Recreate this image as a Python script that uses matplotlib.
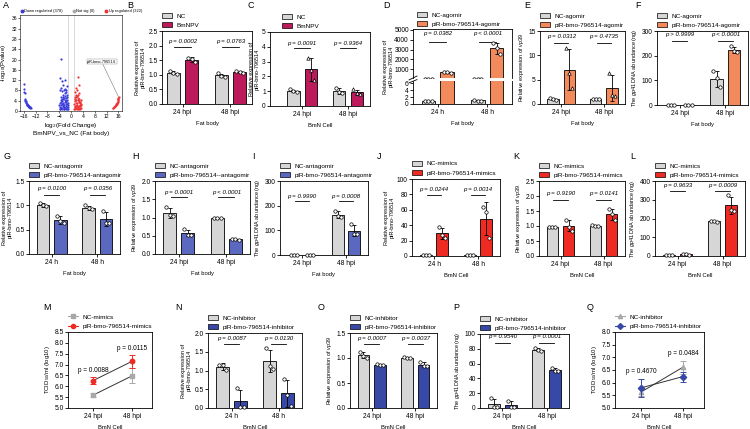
import numpy as np
import matplotlib
matplotlib.use('Agg')
import matplotlib.pyplot as plt
import matplotlib.transforms as mtrans
from matplotlib.patches import Patch
from matplotlib.lines import Line2D

plt.rcParams['font.family'] = ['Liberation Sans', 'DejaVu Sans']
plt.rcParams['mathtext.fontset'] = 'custom'
plt.rcParams['mathtext.rm'] = 'Liberation Sans'
plt.rcParams['mathtext.it'] = 'Liberation Sans:italic'
plt.rcParams['axes.linewidth'] = 0.6
plt.rcParams['xtick.major.width'] = 0.6
plt.rcParams['ytick.major.width'] = 0.6
plt.rcParams['xtick.major.size'] = 2
plt.rcParams['ytick.major.size'] = 2
plt.rcParams['xtick.major.pad'] = 1.5
plt.rcParams['ytick.major.pad'] = 1
plt.rcParams['xtick.labelsize'] = 4.8
plt.rcParams['ytick.labelsize'] = 4.8

FS_LEG = 4.6
FS_P = 4.4
FS_YL = 4.0
FS_XL = 4.2

# ---------------- colours ----------------
NC_GREY = '#d6d6d6'
C_BMNPV = '#bc1a5a'
C_AGOMIR = '#f28a5c'
C_ANTAGOMIR = '#5a68bf'
C_MIMICS = '#ee2a22'
C_INHIBITOR = '#3848a6'
VOL_BLUE = '#3b3bdc'
VOL_RED = '#f03434'

# ---------------- data ----------------
TIME_HPI = ['24 hpi', '48 hpi']
TIME_H = ['24 h', '48 h']

# A: volcano
vol_down_x = [-16.0, -15.9, -15.8, -15.7, -15.6, -15.5, -15.45, -15.4, -15.3, -15.2, -15.1, -15.0, -14.9,
              -14.8, -14.7, -14.6, -14.5, -14.4, -14.3, -14.2, -14.1, -14.0, -13.9, -13.8, -13.6,
              -3.9, -3.7, -3.5, -3.3, -3.1, -2.9, -2.7, -2.5, -2.3, -2.1, -1.9, -1.7, -1.5, -1.3, -1.1,
              -3.8, -3.6, -3.4, -3.2, -3.0, -2.8, -2.6, -2.4, -2.2, -2.0, -1.8, -1.6, -1.4, -1.2, -1.05,
              -3.95, -3.75, -3.45, -3.15, -2.85, -2.55, -2.25, -1.95, -1.65, -1.35, -1.15,
              -2.9, -2.1, -1.7, -1.5, -3.3, -2.6, -1.25,
              -3.5, -3.9, -3.1, -2.0, -2.6, -3.4, -2.2, -1.8, -3.0, -2.5, -1.4, -3.7, -2.0, -1.6]
vol_down_y = [10.5, 8.6, 7.2, 6.8, 4.8, 4.4, 4.0, 3.7, 3.4, 3.1, 2.9, 2.7, 2.5,
              2.3, 2.2, 2.0, 1.9, 1.8, 1.7, 1.6, 1.5, 1.45, 1.4, 1.35, 1.3,
              0.9, 1.5, 2.2, 1.1, 2.8, 1.6, 3.3, 0.8, 2.4, 1.3, 3.9, 1.9, 0.9, 2.6, 1.4,
              3.2, 4.1, 3.6, 4.6, 3.9, 4.8, 2.0, 5.2, 3.6, 4.4, 2.8, 3.4, 4.2, 3.0, 2.2,
              2.4, 0.6, 1.3, 0.7, 2.6, 1.7, 0.6, 1.1, 0.6, 1.7, 0.7,
              5.6, 5.9, 5.0, 6.3, 5.4, 6.2, 5.4,
              20.3, 12.7, 11.6, 12.0, 10.2, 9.0, 8.6, 7.4, 7.6, 8.0, 9.6, 8.3, 7.0, 8.2]
vol_up_x = [1.1, 1.3, 1.5, 1.7, 1.9, 2.1, 2.3, 2.5, 2.7, 2.9, 3.1, 3.3, 3.5,
            1.2, 1.4, 1.6, 1.8, 2.0, 2.2, 2.4, 2.6, 2.8, 3.0, 3.2,
            1.05, 1.35, 1.65, 1.95, 2.25, 2.55, 2.85, 3.15, 3.45, 1.15, 1.55, 2.35,
            1.25, 1.85, 2.45, 3.05, 2.2, 2.5, 1.7, 1.4, 2.1, 2.7,
            14.0, 14.2, 14.4, 14.6, 14.8, 15.0, 15.1, 15.2, 15.3, 15.4, 15.5, 15.6, 15.7,
            15.8, 15.85, 15.9, 15.95, 16.0, 16.05]
vol_up_y = [0.8, 2.1, 1.2, 3.0, 0.7, 2.5, 1.5, 3.6, 0.9, 2.2, 1.3, 2.8, 1.0,
            3.8, 4.6, 5.3, 4.1, 5.8, 4.4, 5.0, 4.0, 4.7, 3.5, 4.2,
            2.9, 0.6, 1.8, 3.3, 0.6, 2.0, 3.1, 0.7, 2.3, 5.6, 6.4, 6.2,
            1.4, 2.0, 1.1, 2.0, 13.3, 10.2, 8.8, 7.5, 8.0, 7.0,
            1.0, 1.2, 1.4, 1.6, 1.8, 2.0, 2.2, 2.4, 2.6, 2.8, 3.0, 3.3, 3.6,
            3.9, 4.2, 4.5, 4.8, 5.1, 5.4]
vol_target = (16.05, 5.4)

# B
B_nc = [[1.12, 1.05, 1.02], [1.05, 0.95, 0.94]]
B_trt = [[1.58, 1.55, 1.43], [1.12, 1.10, 1.07]]
B_p = ['p = 0.0002', 'p = 0.0763']
# C
C_nc = [[1.12, 1.00, 0.96], [1.23, 0.96, 0.85]]
C_trt = [[3.27, 2.40, 1.75], [1.12, 0.85, 0.78]]
C_p = ['p = 0.0091', 'p = 0.9364']
# D
D_nc = [[1.0, 1.0, 1.0], [1.2, 1.0, 0.9]]
D_trt = [[760, 690, 620], [3650, 3150, 2550]]
D_p = ['p = 0.0382', 'p < 0.0001']
# E
E_nc = [[1.2, 1.0, 0.9], [1.0, 1.0, 0.95]]
E_trt = [[11.6, 6.4, 3.2], [6.4, 1.9, 1.7]]
E_p = ['p = 0.0312', 'p = 0.4735']
# F
F_nc = [[0.5, 0.3, 0.4], [138, 108, 71]]
F_trt = [[0.4, 0.5, 0.3], [238, 219, 213]]
F_p = ['p > 0.9999', 'p < 0.0001']
# G
G_nc = [[1.05, 1.00, 0.98], [1.00, 0.94, 0.92]]
G_trt = [[0.78, 0.68, 0.63], [0.88, 0.63, 0.63]]
G_p = ['p = 0.0100', 'p = 0.0356']
# H
H_nc = [[1.28, 1.07, 1.04], [1.0, 1.0, 1.0]]
H_trt = [[0.68, 0.52, 0.52], [0.42, 0.41, 0.39]]
H_p = ['p = 0.0001', 'p < 0.0001']
# I
I_nc = [[0.5, 0.4, 0.5], [179, 157, 155]]
I_trt = [[0.4, 0.5, 0.4], [125, 85, 85]]
I_p = ['p = 0.9990', 'p = 0.0008']
# J
J_nc = [[1.0, 1.0, 1.0], [1.0, 1.0, 1.0]]
J_trt = [[37.7, 27.3, 23.4], [64.0, 57.0, 24.0]]
J_p = ['p = 0.0244', 'p = 0.0014']
# K
K_nc = [[0.98, 0.97, 0.96], [1.02, 1.01, 1.00]]
K_trt = [[1.21, 0.97, 0.85], [1.57, 1.41, 1.19]]
K_p = ['p = 0.9190', 'p = 0.0141']
# L
L_nc = [[8.0, 5.0, 3.0], [186, 185, 184]]
L_trt = [[12.0, 10.0, 8.0], [323, 248, 238]]
L_p = ['p = 0.9633', 'p = 0.0009']
# M (TCID50)
M_nc_mean = [5.59, 6.48]
M_nc_err = [0.10, 0.34]
M_trt_mean = [6.26, 7.15]
M_trt_err = [0.15, 0.30]
M_p = ['p = 0.0088', 'p = 0.0115']
# N
N_nc = [[1.16, 1.15, 1.01], [1.60, 1.12, 1.04]]
N_trt = [[0.53, 0.03, 0.02], [0.77, 0.35, 0.05]]
N_p = ['p = 0.0087', 'p = 0.0130']
# O
O_nc = [[1.13, 1.04, 1.01], [1.02, 1.01, 1.00]]
O_trt = [[0.88, 0.87, 0.86], [0.93, 0.84, 0.84]]
O_p = ['p = 0.0007', 'p = 0.0037']
# P
P_nc = [[13.0, 2.0, 1.0], [81.5, 78.5, 77.0]]
P_trt = [[10.0, 1.0, 1.0], [54.7, 50.0, 50.0]]
P_p = ['p = 0.9540', 'p = 0.0001']
# Q (TCID50)
Q_nc_mean = [5.64, 6.61]
Q_nc_err = [0.15, 0.25]
Q_trt_mean = [5.80, 6.24]
Q_trt_err = [0.35, 0.20]
Q_p = ['p = 0.4670', 'p = 0.0484']

# ---------------- figure ----------------
W, H = 750, 429
fig = plt.figure(figsize=(7.5, 4.29), dpi=100)


def add_ax(l, t, r, b):
    return fig.add_axes([l / W, 1 - b / H, (r - l) / W, (b - t) / H])


BAR_W = 0.27
BAR_OFF = 0.19
JIT = np.array([-0.07, 0.0, 0.07])
YL_PIR = 'Relative expression of\npiR-bmo-796514'
YL_VP39 = r'Relative expression of $\mathit{vp39}$'
YL_GP41 = r'The $\mathit{gp41}$ DNA abundance (ng)'


def draw_bars(ax, nc, trt, color, markers=('o', 'o'), clip=False):
    x = np.arange(2)
    for pts, col, sgn, mk in ((nc, NC_GREY, -1, markers[0]), (trt, color, 1, markers[1])):
        pts = [np.asarray(p, float) for p in pts]
        means = np.array([p.mean() for p in pts])
        sds = np.array([p.std(ddof=1) for p in pts])
        xs = x + sgn * BAR_OFF
        ax.bar(xs, means, BAR_W, color=col, edgecolor='black', linewidth=0.6, zorder=2)
        ax.errorbar(xs, means, yerr=sds, fmt='none', ecolor='black', elinewidth=0.6,
                    capsize=1.5, capthick=0.6, zorder=3)
        for xi, p in zip(xs, pts):
            ax.scatter(xi + JIT, p, s=6, marker=mk, facecolor='white', edgecolor='black',
                       linewidth=0.5, zorder=4, clip_on=clip)


def add_pvals(ax, pvals, ptxt, pline, italic=True):
    tr = mtrans.blended_transform_factory(ax.transData, ax.transAxes)
    for i, p in enumerate(pvals):
        ax.text(i, ptxt, p, transform=tr, ha='center', va='center', fontsize=FS_P,
                style='italic' if italic else 'normal')
        ax.plot([i - 0.17, i + 0.17], [pline, pline], transform=tr, color='black', lw=0.6)


def bar_legend(ax, labels, colors, x=0.0):
    handles = [Patch(facecolor=c, edgecolor='black', linewidth=0.5) for c in colors]
    ax.legend(handles, labels, loc='lower left', bbox_to_anchor=(x, 1.04), frameon=False,
              fontsize=FS_LEG, handlelength=1.6, handleheight=0.8, labelspacing=0.6,
              borderpad=0, borderaxespad=0, handletextpad=0.7)


def bar_panel(box, nc, trt, color, labels, xt, ylim, yticks, pvals, ptxt, pline,
              ylabel, xlabel, markers=('o', 'o'), xlim=(-0.5, 1.5), legx=0.0):
    ax = add_ax(*box)
    draw_bars(ax, nc, trt, color, markers)
    ax.set_xlim(*xlim)
    ax.set_ylim(*ylim)
    ax.set_yticks(yticks)
    ax.set_xticks([0, 1])
    ax.set_xticklabels(xt)
    add_pvals(ax, pvals, ptxt, pline)
    bar_legend(ax, labels, [NC_GREY, color], x=legx)
    ax.set_ylabel(ylabel, fontsize=FS_YL, labelpad=2, linespacing=1.1)
    ax.set_xlabel(xlabel, fontsize=FS_XL, labelpad=4)
    return ax


def line_panel(box, nc_m, nc_e, tr_m, tr_e, nc_col, tr_col, nc_mk, tr_mk, labels, pvals, ylim, yticks):
    ax = add_ax(*box)
    x = np.arange(2)
    ax.plot(x, nc_m, color='#333333', lw=0.7, zorder=2)
    ax.plot(x, tr_m, color='#333333', lw=0.7, zorder=2)
    ax.errorbar(x, nc_m, yerr=nc_e, fmt=nc_mk, color=nc_col, ms=3.2, elinewidth=0.7,
                capsize=2, capthick=0.7, zorder=3)
    ax.errorbar(x, tr_m, yerr=tr_e, fmt=tr_mk, color=tr_col, ms=3.2, elinewidth=0.7,
                capsize=2, capthick=0.7, zorder=4)
    ax.set_xlim(-0.64, 1.51)
    ax.set_ylim(*ylim)
    ax.set_yticks(yticks)
    ax.set_xticks([0, 1])
    ax.set_xticklabels(TIME_HPI)
    ax.yaxis.set_major_formatter(matplotlib.ticker.FormatStrFormatter('%.1f'))
    ax.set_ylabel(r'TCID$_{50}$/ml (log10)', fontsize=FS_YL + 0.3, labelpad=2)
    ax.set_xlabel('BmN Cell', fontsize=FS_XL, labelpad=4)
    handles = [Line2D([0], [0], color=nc_col, marker=nc_mk, ms=3, lw=0.8),
               Line2D([0], [0], color=tr_col, marker=tr_mk, ms=3, lw=0.8)]
    ax.legend(handles, labels, loc='lower left', bbox_to_anchor=(0.0, 1.04), frameon=False,
              fontsize=FS_LEG, handlelength=1.6, labelspacing=0.6, borderpad=0, borderaxespad=0,
              handletextpad=0.7)
    for i, p in enumerate(pvals):
        top = max(nc_m[i] + nc_e[i], tr_m[i] + tr_e[i])
        ax.text(i, top + 0.3, p, ha='center', va='center', fontsize=FS_P + 0.3)
    return ax


# ---------- A: volcano ----------
axA = add_ax(20, 15, 122, 111)
axA.scatter(vol_down_x, vol_down_y, s=2.5, color=VOL_BLUE, linewidths=0, zorder=3)
axA.scatter(vol_up_x, vol_up_y, s=2.5, color=VOL_RED, linewidths=0, zorder=3)
axA.axvline(-1, color='#bbbbbb', lw=0.4, zorder=1)
axA.axvline(1, color='#bbbbbb', lw=0.4, zorder=1)
axA.set_xlim(-17.3, 17.2)
axA.set_ylim(0, 37.3)
axA.set_xticks([-16, -12, -8, -4, 0, 4, 8, 12, 16])
axA.set_yticks(np.arange(0, 37, 4))
axA.tick_params(labelsize=3.6, length=1.2, width=0.4, pad=0.8)
for s in axA.spines.values():
    s.set_linewidth(0.4)
axA.set_xlabel('log$_2$(Fold Change)\nBmNPV_vs_NC (Fat body)', fontsize=4.6, labelpad=1.5, linespacing=1.3)
axA.set_ylabel('-log$_{10}$(Pvalue)', fontsize=4.2)
axA.yaxis.set_label_coords(-0.115, 0.5)
axA.annotate('piR-bmo-796514', xy=vol_target, xytext=(10.3, 19.2), fontsize=2.8, ha='center', va='center',
             bbox=dict(boxstyle='square,pad=0.15', fc='white', ec='#888888', lw=0.3),
             arrowprops=dict(arrowstyle='-', color='#777777', lw=0.4, shrinkA=0, shrinkB=0))
vol_handles = [Line2D([0], [0], ls='none', marker='o', ms=1.8, color=VOL_BLUE),
               Line2D([0], [0], ls='none', marker='o', ms=1.8, color='#aaaaaa'),
               Line2D([0], [0], ls='none', marker='o', ms=1.8, color=VOL_RED)]
axA.legend(vol_handles, ['Down regulated (378)', 'Not sig (0)', 'Up regulated (322)'],
           loc='lower left', bbox_to_anchor=(0.0, 1.02), ncol=3, frameon=False, fontsize=2.9,
           handlelength=0.8, handletextpad=0.2, columnspacing=2.4, borderpad=0, borderaxespad=0)

# ---------- row 1 ----------
bar_panel((162, 31, 252, 104), B_nc, B_trt, C_BMNPV, ['NC', 'BmNPV'], TIME_HPI, (0, 2.5),
          [0, 0.5, 1.0, 1.5, 2.0, 2.5], B_p, 0.86, 0.78, YL_PIR, 'Fat body', xlim=(-0.43, 1.45))
bar_panel((270, 32, 370, 106), C_nc, C_trt, C_BMNPV, ['NC', 'BmNPV'], TIME_HPI, (0, 5),
          [0, 1, 2, 3, 4, 5], C_p, 0.85, 0.78, YL_PIR, 'BmN Cell', markers=('o', '^'),
          xlim=(-0.7, 1.48), legx=0.12)

# D: broken axis
axDu = add_ax(413, 29, 512, 78)
axDl = add_ax(413, 81, 512, 104)
for a in (axDu, axDl):
    draw_bars(a, D_nc, D_trt, C_AGOMIR, clip=True)
    a.set_xlim(-0.5, 1.5)
axDu.set_ylim(100, 5100)
axDu.set_yticks([1000, 2000, 3000, 4000, 5000])
axDl.set_ylim(0, 6.6)
axDl.set_yticks([0, 2, 4, 6])
axDu.spines['bottom'].set_visible(False)
axDl.spines['top'].set_visible(False)
axDu.set_xticks([])
axDl.set_xticks([0, 1])
axDl.set_xticklabels(TIME_H)
axDl.set_xlabel('Fat body', fontsize=FS_XL, labelpad=4)
add_pvals(axDu, D_p, 0.9, 0.73)
bar_legend(axDu, ['NC-agomir', 'piR-bmo-796514-agomir'], [NC_GREY, C_AGOMIR], x=0.04)
axDu.plot([-0.04, 0.04], [-0.04, 0.04], transform=axDu.transAxes, color='black', lw=0.6, clip_on=False)
axDl.plot([-0.04, 0.04], [0.92, 1.06], transform=axDl.transAxes, color='black', lw=0.6, clip_on=False)
fig.text(388 / W, 1 - 66.5 / H, YL_PIR, rotation=90, ha='center', va='center', fontsize=FS_YL,
         linespacing=1.1)

bar_panel((540, 31, 625, 104), E_nc, E_trt, C_AGOMIR, ['NC-agomir', 'piR-bmo-796514-agomir'], TIME_HPI,
          (0, 15), [0, 5, 10, 15], E_p, 0.92, 0.835, YL_VP39, 'Fat body', markers=('o', '^'))
bar_panel((657, 31, 748, 105), F_nc, F_trt, C_AGOMIR, ['NC-agomir', 'piR-bmo-796514-agomir'], TIME_HPI,
          (0, 300), [0, 100, 200, 300], F_p, 0.95, 0.86, YL_GP41, 'Fat body')

# ---------- row 2 ----------
bar_panel((29, 181, 120, 254), G_nc, G_trt, C_ANTAGOMIR, ['NC-antagomir', 'piR-bmo-796514-antagomir'],
          TIME_H, (0, 1.5), [0, 0.5, 1.0, 1.5], G_p, 0.9, 0.81, YL_PIR, 'Fat body')
bar_panel((155, 181, 250, 254), H_nc, H_trt, C_ANTAGOMIR, ['NC-antagomir', 'piR-bmo-796514--antagomir'],
          TIME_HPI, (0, 2.0), [0, 0.5, 1.0, 1.5, 2.0], H_p, 0.845, 0.78, YL_VP39, 'Fat body')
bar_panel((280, 181, 368, 255), I_nc, I_trt, C_ANTAGOMIR, ['NC-antagomir', 'piR-bmo-796514-antagomir'],
          TIME_HPI, (0, 300), [0, 100, 200, 300], I_p, 0.79, 0.73, YL_GP41, 'Fat body')
bar_panel((412, 179, 500, 256), J_nc, J_trt, C_MIMICS, ['NC-mimics', 'piR-bmo-796514-mimics'],
          TIME_H, (0, 100), [0, 20, 40, 60, 80, 100], J_p, 0.86, 0.79, YL_PIR, 'BmN Cell')
bar_panel((539, 181, 625, 256), K_nc, K_trt, C_MIMICS, ['NC-mimics', 'piR-bmo-796514-mimics'],
          TIME_HPI, (0, 2.5), [0, 0.5, 1.0, 1.5, 2.0, 2.5], K_p, 0.83, 0.75, YL_VP39, 'BmN Cell')
bar_panel((655, 181, 745, 256), L_nc, L_trt, C_MIMICS, ['NC-mimics', 'piR-bmo-796514-mimics'],
          TIME_HPI, (0, 400), [0, 100, 200, 300, 400], L_p, 0.94, 0.87, YL_GP41, 'BmN Cell')

# ---------- row 3 ----------
line_panel((68, 332, 152, 408), M_nc_mean, M_nc_err, M_trt_mean, M_trt_err, '#a8a8a8', C_MIMICS,
           's', 'o', ['NC-mimics', 'piR-bmo-796514-mimics'], M_p, (5.0, 8.5),
           [5.0, 5.5, 6.0, 6.5, 7.0, 7.5, 8.0, 8.5])

bar_panel((208, 333, 302, 408), N_nc, N_trt, C_INHIBITOR, ['NC-inhibitor', 'piR-bmo-796514-inhibitor'],
          TIME_H, (0, 2.0), [0, 0.5, 1.0, 1.5, 2.0], N_p, 0.93, 0.85, YL_PIR, 'BmN Cell')
bar_panel((350, 333, 437, 408), O_nc, O_trt, C_INHIBITOR, ['NC-inhibitor', 'piR-bmo-796514-inhibitor'],
          TIME_HPI, (0, 1.5), [0, 0.5, 1.0, 1.5], O_p, 0.93, 0.86, YL_VP39, 'BmN Cell')
bar_panel((480, 334, 569, 408), P_nc, P_trt, C_INHIBITOR, ['NC-inhibitor', 'piR-bmo-796514-inhibitor'],
          TIME_HPI, (0, 100), [0, 20, 40, 60, 80, 100], P_p, 0.96, 0.88, YL_GP41, 'BmN Cell')

line_panel((615, 332, 704, 408), Q_nc_mean, Q_nc_err, Q_trt_mean, Q_trt_err, '#a8a8a8', C_INHIBITOR,
           '^', 'D', ['NC-inhibitor', 'piR-bmo-796514-inhibitor'], Q_p, (5.0, 8.0),
           [5.0, 5.5, 6.0, 6.5, 7.0, 7.5, 8.0])

# ---------- panel letters ----------
letters = [('A', 3, 5), ('B', 127, 5), ('C', 248, 5), ('D', 383, 5), ('E', 524, 5), ('F', 635, 5),
           ('G', 3, 157), ('H', 132, 157), ('I', 252, 157), ('J', 377, 157), ('K', 513, 157), ('L', 630, 157),
           ('M', 43, 308), ('N', 175, 308), ('O', 318, 308), ('P', 453, 308), ('Q', 587, 308)]
for t, lx, ly in letters:
    fig.text(lx / W, 1 - ly / H, t, fontsize=6.5, ha='left', va='center')

fig.savefig('out.png', dpi=100)
